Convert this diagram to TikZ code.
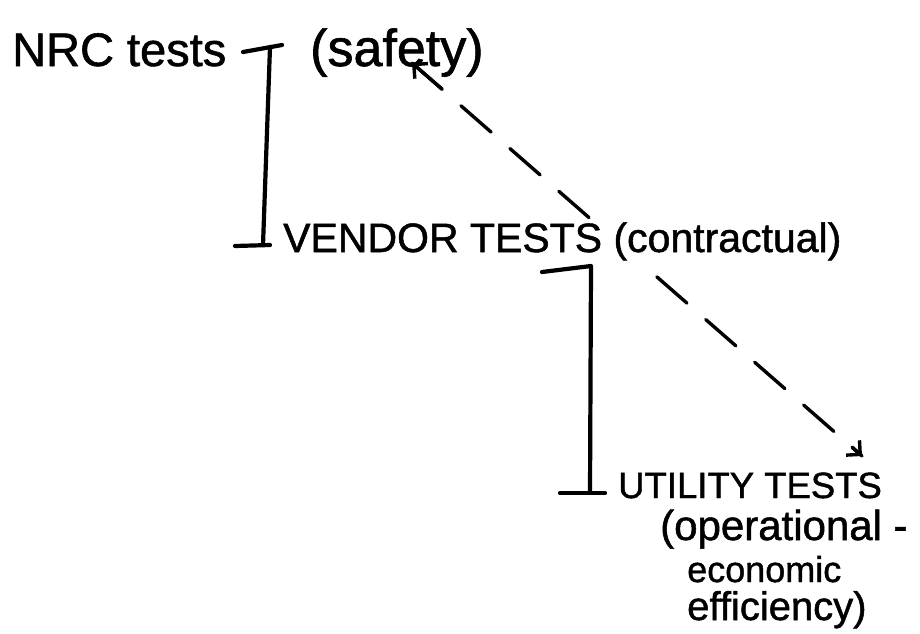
\documentclass[tikz,border=0pt]{standalone}
\usepackage{fontspec}
\setmainfont{Liberation Sans}[BoldFont={Liberation Sans}, BoldFeatures={FakeBold=1.2}]
\usetikzlibrary{arrows.meta}
\tikzset{
  hw/.style={anchor=base west, inner sep=2pt, text=black},
  brk/.style={line width=4.2pt, line cap=round, line join=round},
  dashline/.style={line width=3.4pt, line cap=round, dash pattern=on 40pt off 25pt},
  tipline/.style={line width=3.4pt, line cap=round, solid,
     -{Straight Barb[length=10pt,width=20pt,line width=3.4pt]}}
}
\begin{document}
\begin{tikzpicture}[x=1pt,y=-1pt]
\useasboundingbox[fill=white] (0,0) rectangle (920,633);
% dashed connector (drawn first, hidden behind the vendor label)
\coordinate (sa) at (412,63);
\coordinate (ua) at (862,456);
\coordinate (sb) at (442,89);
\coordinate (ub) at (852,447);
\draw[dashline] (sa) -- (ua);
\draw[tipline] (sb) -- (sa);
\draw[tipline] (ub) -- (ua);
% labels
\node[hw, font=\fontsize{47}{50}\bfseries] (nrc) at (10,66) {NRC tests};
\node[hw, font=\fontsize{52}{56}\bfseries] (safety) at (308,66) {(safety)};
\node[hw, fill=white, font=\fontsize{41}{45}\bfseries] (vendor) at (281,252) {VENDOR TESTS (contractual)};
\node[hw, font=\fontsize{36.5}{40}\bfseries] (utility) at (616,498) {UTILITY TESTS};
\node[hw, font=\fontsize{42}{45}\bfseries] (oper) at (658,540) {(operational -};
\node[hw, font=\fontsize{36}{40}\bfseries] (econ) at (685,582) {economic};
\node[hw, font=\fontsize{40}{44}\bfseries] (effic) at (685,620) {efficiency)};
% brackets
\coordinate (b1a) at (243,52);
\coordinate (b1b) at (282,45);
\coordinate (b1c) at (270,47);
\coordinate (b1d) at (263,245);
\coordinate (b1e) at (235,246);
\coordinate (b1f) at (270,245);
\draw[brk] (b1a) -- (b1b);
\draw[brk] (b1c) -- (b1d);
\draw[brk] (b1e) -- (b1f);
\coordinate (b2a) at (542,272);
\coordinate (b2b) at (591,266);
\coordinate (b2c) at (590,492);
\coordinate (b2d) at (560,493);
\coordinate (b2e) at (605,493);
\draw[brk] (b2a) -- (b2b) -- (b2c);
\draw[brk] (b2d) -- (b2e);
\end{tikzpicture}
\end{document}
